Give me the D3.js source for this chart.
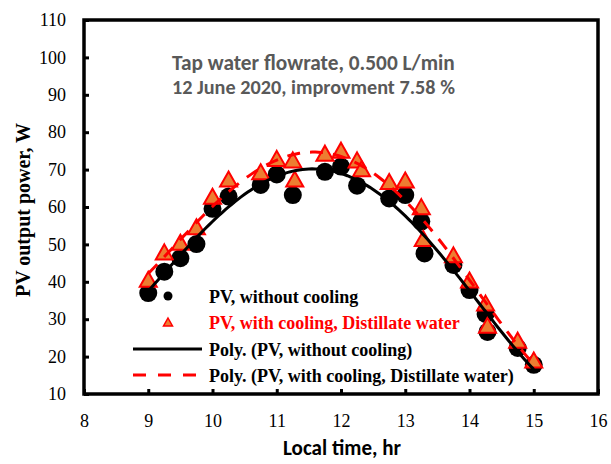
<!DOCTYPE html>
<html>
<head>
<meta charset="utf-8">
<script src="https://cdn.jsdelivr.net/npm/d3@7"></script>
<style>
  body { margin: 0; background: #fff; }
  svg { display: block; }
</style>
</head>
<body>
<div id="chart"></div>
<script>
// PV output without cooling (black circles)
const timeNoCool = [9, 9.25, 9.5, 9.75, 10, 10.25, 10.75, 11, 11.25, 11.75, 12, 12.25, 12.75, 13, 13.25, 13.3, 13.75, 14, 14.25, 14.28, 14.75, 15];
const powerNoCool = [37.0, 42.7, 46.3, 50.1, 59.5, 62.8, 65.9, 68.7, 63.2, 69.4, 70.8, 65.7, 62.3, 63.2, 56.1, 47.6, 44.5, 37.8, 31.4, 26.6, 22.3, 17.8];
// PV output with cooling, distillate water (triangles)
const timeCool = [9, 9.25, 9.5, 9.75, 10, 10.25, 10.75, 11, 11.25, 11.28, 11.75, 12, 12.25, 12.32, 12.75, 13, 13.25, 13.28, 13.75, 14, 14.25, 14.28, 14.75, 15];
const powerCool = [40.7, 48.0, 50.6, 54.7, 62.9, 67.5, 69.4, 73.0, 72.6, 67.5, 74.4, 75.2, 72.6, 70.2, 66.8, 67.2, 60.1, 51.6, 47.2, 40.5, 34.3, 28.4, 24.4, 19.1];

const xTicks = [8, 9, 10, 11, 12, 13, 14, 15, 16];
const yTicks = [10, 20, 30, 40, 50, 60, 70, 80, 90, 100, 110];
const titleLines = ['Tap water flowrate, 0.500 L/min', '12 June 2020, improvment 7.58 %'];
const legendLabels = ['PV, without cooling', 'PV, with cooling, Distillate water', 'Poly. (PV, without cooling)', 'Poly. (PV, with cooling, Distillate water)'];
const xLabel = 'Local time, hr';
const yLabel = 'PV output power, W';

const W = 611, H = 464;
const SERIF = '"Liberation Serif", "Times New Roman", serif';
const SANS = 'Carlito, Calibri, Lato, sans-serif';
const RED = '#ff0000';
const ORANGE = '#ed7d31';

const svg = d3.select('#chart').append('svg')
  .attr('width', W).attr('height', H);

const x = d3.scaleLinear().domain([8, 16]).range([84, 598]);
const y = d3.scaleLinear().domain([10, 110]).range([394, 20]);

// least squares polynomial fit (Excel style trendline)
function polyfit(xs, ys, order) {
  const n = order + 1;
  const x0 = 12; // centre times for numerical stability
  const A = Array.from({ length: n }, () => new Array(n + 1).fill(0));
  for (let k = 0; k < xs.length; k++) {
    const u = xs[k] - x0;
    for (let i = 0; i < n; i++) {
      for (let j = 0; j < n; j++) A[i][j] += Math.pow(u, i + j);
      A[i][n] += ys[k] * Math.pow(u, i);
    }
  }
  for (let i = 0; i < n; i++) {
    let p = i;
    for (let r = i + 1; r < n; r++) if (Math.abs(A[r][i]) > Math.abs(A[p][i])) p = r;
    [A[i], A[p]] = [A[p], A[i]];
    for (let r = i + 1; r < n; r++) {
      const f = A[r][i] / A[i][i];
      for (let c = i; c <= n; c++) A[r][c] -= f * A[i][c];
    }
  }
  const coef = new Array(n).fill(0);
  for (let i = n - 1; i >= 0; i--) {
    let s = A[i][n];
    for (let j = i + 1; j < n; j++) s -= A[i][j] * coef[j];
    coef[i] = s / A[i][i];
  }
  return t => coef.reduce((acc, c, i) => acc + c * Math.pow(t - x0, i), 0);
}

const fitNoCool = polyfit(timeNoCool, powerNoCool, 4);
const fitCool = polyfit(timeCool, powerCool, 4);
const tSamples = d3.range(9, 15.0001, 0.05);

// axes
const yAxis = d3.axisLeft(y).tickValues(yTicks).tickSize(-5).tickPadding(18);
const xAxis = d3.axisBottom(x).tickValues(xTicks).tickSize(-5).tickPadding(20);

const gy = svg.append('g').attr('transform', `translate(${x(8)},0)`).call(yAxis);
const gx = svg.append('g').attr('transform', `translate(0,${y(10)})`).call(xAxis);
[gx, gy].forEach(g => {
  g.attr('font-family', SERIF).attr('font-size', 18);
  g.select('.domain').remove();
  g.selectAll('.tick line').attr('stroke', '#000').attr('stroke-width', 3);
  g.selectAll('.tick text').attr('fill', '#000');
});

// plot frame
svg.append('rect')
  .attr('x', x(8)).attr('y', y(110))
  .attr('width', x(16) - x(8)).attr('height', y(10) - y(110))
  .attr('fill', 'none').attr('stroke', '#000').attr('stroke-width', 3.5);

// fit a bold sans text to the width it has in the picture
function fitWidth(sel, target, base) {
  sel.each(function () {
    const w = this.getComputedTextLength();
    if (w > 0) d3.select(this).attr('font-size', base * target / w);
  });
}

// title text
const title = svg.append('g').selectAll('text')
  .data(titleLines).enter().append('text')
  .attr('x', 172).attr('y', (d, i) => 70 + i * 23.5)
  .attr('font-family', SANS).attr('font-weight', 'bold').attr('font-size', 17)
  .attr('fill', '#595959')
  .text(d => d);
fitWidth(title, 283, 17);

// markers
const triPath = (w, h) => `M0,${-h / 2}L${w / 2},${h / 2}L${-w / 2},${h / 2}Z`;

svg.append('g').selectAll('circle')
  .data(timeNoCool.map((t, i) => [t, powerNoCool[i]]))
  .enter().append('circle')
  .attr('cx', d => x(d[0])).attr('cy', d => y(d[1]))
  .attr('r', 9).attr('fill', '#000');

svg.append('g').selectAll('path')
  .data(timeCool.map((t, i) => [t, powerCool[i]]))
  .enter().append('path')
  .attr('transform', d => `translate(${x(d[0])},${y(d[1])})`)
  .attr('d', triPath(17, 15))
  .attr('fill', ORANGE).attr('stroke', RED).attr('stroke-width', 2)
  .attr('stroke-linejoin', 'miter');

// trendlines
const line = fn => d3.line().x(t => x(t)).y(t => y(fn(t)))(tSamples);
svg.append('path').attr('d', line(fitNoCool))
  .attr('fill', 'none').attr('stroke', '#000').attr('stroke-width', 3);
svg.append('path').attr('d', line(fitCool))
  .attr('fill', 'none').attr('stroke', RED).attr('stroke-width', 3)
  .attr('stroke-dasharray', '13,10');

// legend
const legend = svg.append('g');
const rowY = [296, 322, 349, 375];
legend.append('circle').attr('cx', 168).attr('cy', rowY[0]).attr('r', 4.5).attr('fill', '#000');
legend.append('path').attr('transform', `translate(168,${rowY[1]})`)
  .attr('d', triPath(9, 8)).attr('fill', ORANGE).attr('stroke', RED).attr('stroke-width', 1.5);
legend.append('line').attr('x1', 133).attr('x2', 202).attr('y1', rowY[2]).attr('y2', rowY[2])
  .attr('stroke', '#000').attr('stroke-width', 3);
legend.append('line').attr('x1', 133).attr('x2', 202).attr('y1', rowY[3]).attr('y2', rowY[3])
  .attr('stroke', RED).attr('stroke-width', 3).attr('stroke-dasharray', '13,12');
legend.selectAll('text')
  .data(legendLabels).enter().append('text')
  .attr('x', 209).attr('y', (d, i) => rowY[i] + 7)
  .attr('font-family', SERIF).attr('font-weight', 'bold').attr('font-size', 18)
  .attr('fill', (d, i) => i === 1 ? RED : '#000')
  .text(d => d);

// axis titles
const xTitle = svg.append('text')
  .attr('x', 342).attr('y', 455).attr('text-anchor', 'middle')
  .attr('font-family', SANS).attr('font-weight', 'bold').attr('font-size', 18)
  .text(xLabel);
fitWidth(xTitle, 118, 18);
svg.append('text')
  .attr('transform', 'translate(30,210) rotate(-90)').attr('text-anchor', 'middle')
  .attr('font-family', SERIF).attr('font-weight', 'bold').attr('font-size', 20)
  .text(yLabel);
</script>
</body>
</html>
